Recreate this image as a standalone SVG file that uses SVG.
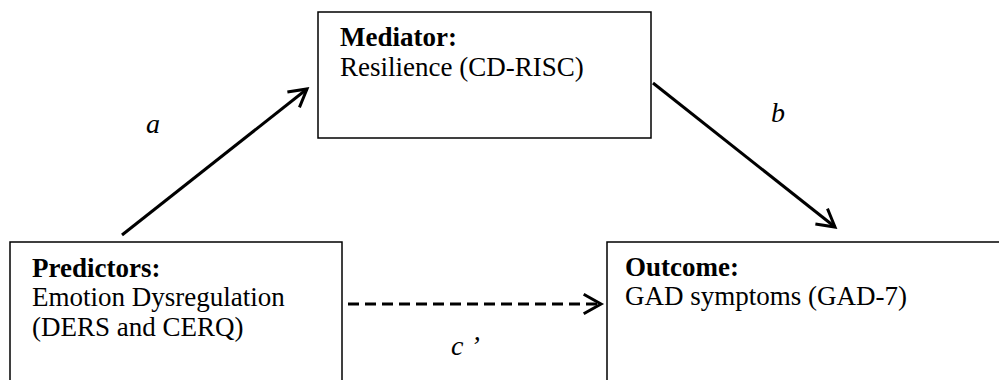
<svg xmlns="http://www.w3.org/2000/svg" width="999" height="380" viewBox="0 0 999 380">
<defs>
<marker id="chev" viewBox="0 0 12 12" refX="10" refY="6" markerWidth="12" markerHeight="12" markerUnits="userSpaceOnUse" orient="auto" overflow="visible">
<path d="M-6,-3 L10,6 L-6,15" fill="none" stroke="#000" stroke-width="3" stroke-linecap="square"/>
</marker>
</defs>
<style>
.box{fill:#fff;stroke:#000;stroke-width:1.5}
.t{font-family:"Liberation Serif","Times New Roman",serif;font-size:27px;fill:#000}
.b{font-weight:bold}
.lab{font-family:"Liberation Serif","Times New Roman",serif;font-size:28px;font-style:italic;fill:#000}
.arr{stroke:#000;stroke-width:3;fill:none}
</style>
<g id="mediator">
<rect class="box" x="318" y="12" width="333" height="126"/>
<text class="t b" x="340" y="46">Mediator:</text>
<text class="t" x="340" y="76">Resilience (CD-RISC)</text>
</g>
<g id="predictors">
<rect class="box" x="10" y="242" width="332" height="150"/>
<text class="t b" x="32" y="277">Predictors:</text>
<text class="t" x="32" y="306">Emotion Dysregulation</text>
<text class="t" x="32" y="336">(DERS and CERQ)</text>
</g>
<g id="outcome">
<rect class="box" x="607" y="242" width="400" height="150"/>
<text class="t b" x="625" y="276">Outcome:</text>
<text class="t" x="625" y="305">GAD symptoms (GAD-7)</text>
</g>
<g id="connectors">
<line class="arr" x1="122" y1="235" x2="307" y2="89" marker-end="url(#chev)"/>
<line class="arr" x1="653" y1="83" x2="835" y2="227" marker-end="url(#chev)"/>
<line class="arr" x1="348" y1="304" x2="601" y2="304" stroke-dasharray="11 6" marker-end="url(#chev)"/>
<text class="lab" x="146" y="133">a</text>
<text class="lab" x="771" y="122">b</text>
<text class="lab" x="451" y="355">c ’</text>
</g>
</svg>
